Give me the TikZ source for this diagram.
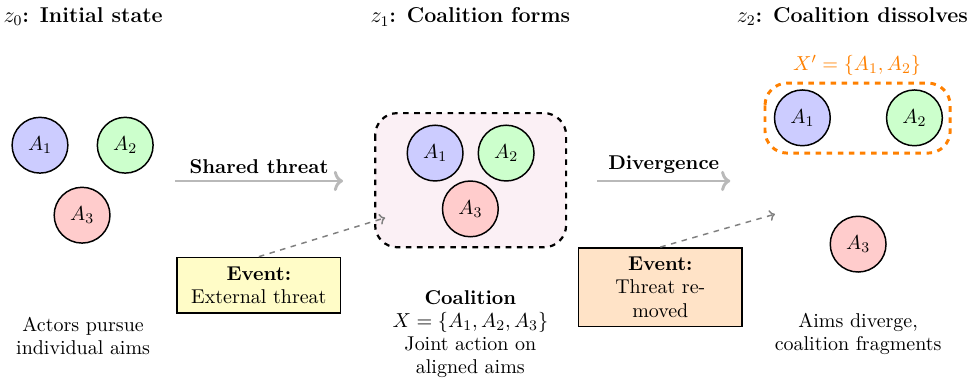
\documentclass[tikz,border=0pt]{standalone}
\usetikzlibrary{arrows.meta}
\definecolor{coalfill}{RGB}{251,240,245}

\begin{document}
\begin{tikzpicture}[font=\fontsize{10.8}{12.6}\selectfont,
	actor/.style={circle, draw, thick, minimum size=1.06cm, inner sep=0pt},
	transit/.style={-{To[length=5pt,width=11pt]}, line width=1.6pt, gray!55},
	cue/.style={-{To[length=3pt,width=6pt]}, dashed, gray, thick},
	eventbox/.style={draw, thick, text width=2.9cm, align=center, inner xsep=3pt, inner ysep=5pt},
	title/.style={font=\fontsize{11.6}{14}\selectfont}]
	\useasboundingbox (0,0) rectangle (18.55,-7.36);
	% titles
	\node[title] (T0) at (1.58,-0.32) {$z_0$\textbf{: Initial state}};
	\node[title] (T1) at (8.94,-0.32) {$z_1$\textbf{: Coalition forms}};
	\node[title] (T2) at (16.2,-0.32) {$z_2$\textbf{: Coalition dissolves}};
	% z0
	\node[actor, fill=blue!20] (P1) at (0.76,-2.76) {$A_1$};
	\node[actor, fill=green!20] (P2) at (2.38,-2.76) {$A_2$};
	\node[actor, fill=red!20] (P3) at (1.56,-4.09) {$A_3$};
	\node[align=center] (C0) at (1.58,-6.39) {Actors pursue\\individual aims};
	% z1
	\draw[dashed, line width=1.2pt, rounded corners=12pt, fill=coalfill]
		(7.13,-2.15) rectangle (10.76,-4.70);
	\node[actor, fill=blue!20] (Q1) at (8.27,-2.91) {$A_1$};
	\node[actor, fill=green!20] (Q2) at (9.62,-2.91) {$A_2$};
	\node[actor, fill=red!20] (Q3) at (8.94,-3.97) {$A_3$};
	\node[align=center] (C1) at (8.94,-6.35)
		{\textbf{Coalition}\\$X=\{A_1,A_2,A_3\}$\\Joint action on\\aligned aims};
	% z2
	\draw[dashed, orange, line width=1.6pt, rounded corners=12pt]
		(14.54,-1.58) rectangle (18.06,-2.91);
	\node[orange] (XP) at (16.29,-1.24) {$X'=\{A_1,A_2\}$};
	\node[actor, fill=blue!20] (R1) at (15.25,-2.24) {$A_1$};
	\node[actor, fill=green!20] (R2) at (17.38,-2.24) {$A_2$};
	\node[actor, fill=red!20] (R3) at (16.31,-4.64) {$A_3$};
	\node[align=center] (C2) at (16.31,-6.35) {Aims diverge,\\coalition fragments};
	% transitions
	\coordinate (S0) at (3.33,-3.44);
	\coordinate (S1) at (6.52,-3.44);
	\coordinate (D0) at (11.35,-3.44);
	\coordinate (D1) at (13.88,-3.44);
	\draw[transit] (S0) to node[above, black] {\textbf{Shared threat}} (S1);
	\draw[transit] (D0) to node[above, black] {\textbf{Divergence}} (D1);
	% events
	\node[eventbox, fill=yellow!22] (E1) at (4.92,-5.42) {\textbf{Event:}\\External threat};
	\node[eventbox, fill=orange!22] (E2) at (12.55,-5.46) {\textbf{Event:}\\Threat re-\\moved};
	\coordinate (H1) at (7.32,-4.14);
	\coordinate (H2) at (14.73,-4.07);
	\draw[cue] (E1.north) to (H1);
	\draw[cue] (E2.north) to (H2);
\end{tikzpicture}
\end{document}
